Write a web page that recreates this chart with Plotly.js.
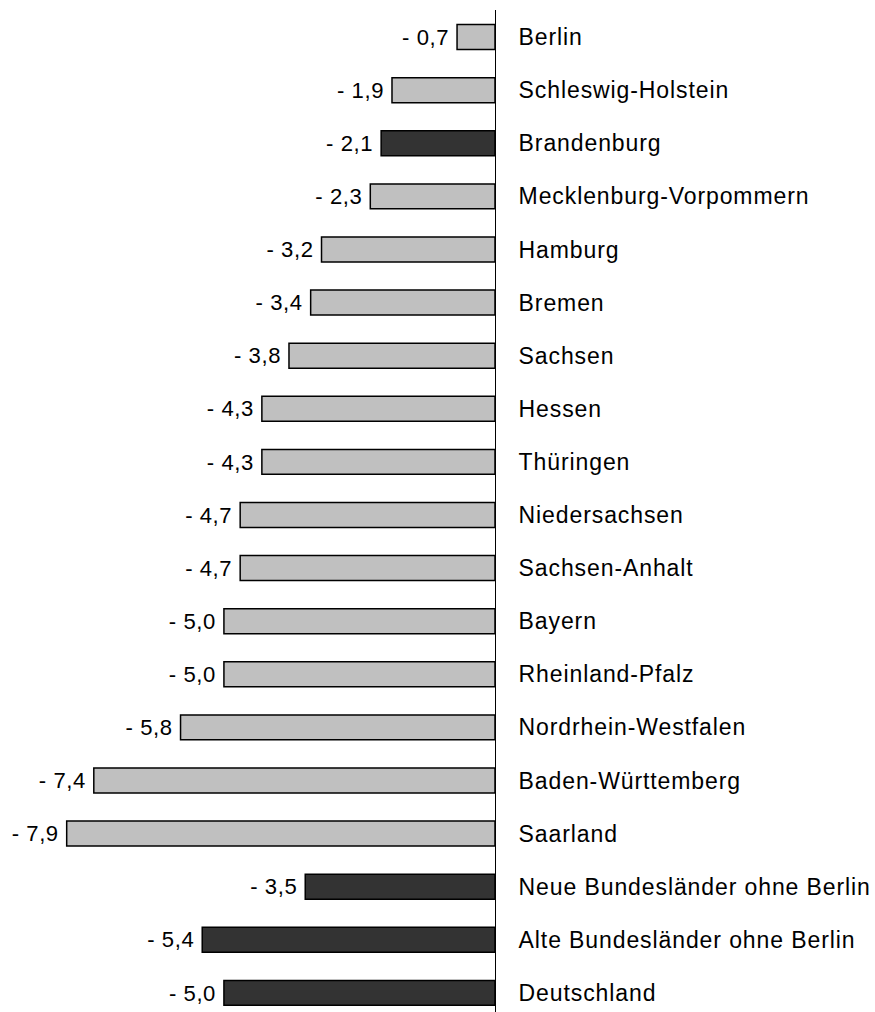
<!DOCTYPE html>
<html>
<head>
<meta charset="utf-8">
<script src="https://cdn.plot.ly/plotly-3.0.1.min.js"></script>
<style>
html,body{margin:0;padding:0;background:#fff;}
#chart{width:875px;height:1012px;}
#chart .ytick text{letter-spacing:0.9px;}
#chart .bartext{letter-spacing:0.6px;}
</style>
</head>
<body>
<div id="chart"></div>
<script>
const regions = ["Berlin","Schleswig-Holstein","Brandenburg","Mecklenburg-Vorpommern","Hamburg","Bremen","Sachsen","Hessen","Thüringen","Niedersachsen","Sachsen-Anhalt","Bayern","Rheinland-Pfalz","Nordrhein-Westfalen","Baden-Württemberg","Saarland","Neue Bundesländer ohne Berlin","Alte Bundesländer ohne Berlin","Deutschland"];
const changes = [-0.7,-1.9,-2.1,-2.3,-3.2,-3.4,-3.8,-4.3,-4.3,-4.7,-4.7,-5.0,-5.0,-5.8,-7.4,-7.9,-3.5,-5.4,-5.0];
const highlighted = ["Brandenburg","Neue Bundesländer ohne Berlin","Alte Bundesländer ohne Berlin","Deutschland"];

const labels = changes.map(v => (v < 0 ? "- " : "") + Math.abs(v).toFixed(1).replace(".", ",") + "\u00a0");
const colors = regions.map(r => highlighted.includes(r) ? "#333333" : "#c0c0c0");

const trace = {
  type: "bar",
  orientation: "h",
  y: regions,
  x: changes,
  text: labels,
  textposition: "outside",
  cliponaxis: false,
  textfont: {family: "Liberation Sans, Arial, sans-serif", size: 23, color: "#000"},
  marker: {color: colors, line: {color: "#000", width: 1.5}},
  width: 0.47,
  hoverinfo: "skip"
};

const layout = {
  width: 875, height: 1012,
  margin: {l: 0, r: 380, t: 10, b: 0},
  paper_bgcolor: "#fff", plot_bgcolor: "#fff",
  showlegend: false,
  font: {family: "Liberation Sans, Arial, sans-serif", size: 23, color: "#000"},
  xaxis: {range: [-9.13, 0], visible: false, showgrid: false, zeroline: false, fixedrange: true},
  yaxis: {
    type: "category",
    range: [18.36, -0.51],
    side: "right",
    showline: true, linecolor: "#000", linewidth: 1,
    ticks: "", ticklabelstandoff: 18,
    showgrid: false, zeroline: false,
    tickfont: {family: "Liberation Sans, Arial, sans-serif", size: 23, color: "#000"},
    fixedrange: true
  }
};

Plotly.newPlot("chart", [trace], layout, {displayModeBar: false, staticPlot: true});
</script>
</body>
</html>
